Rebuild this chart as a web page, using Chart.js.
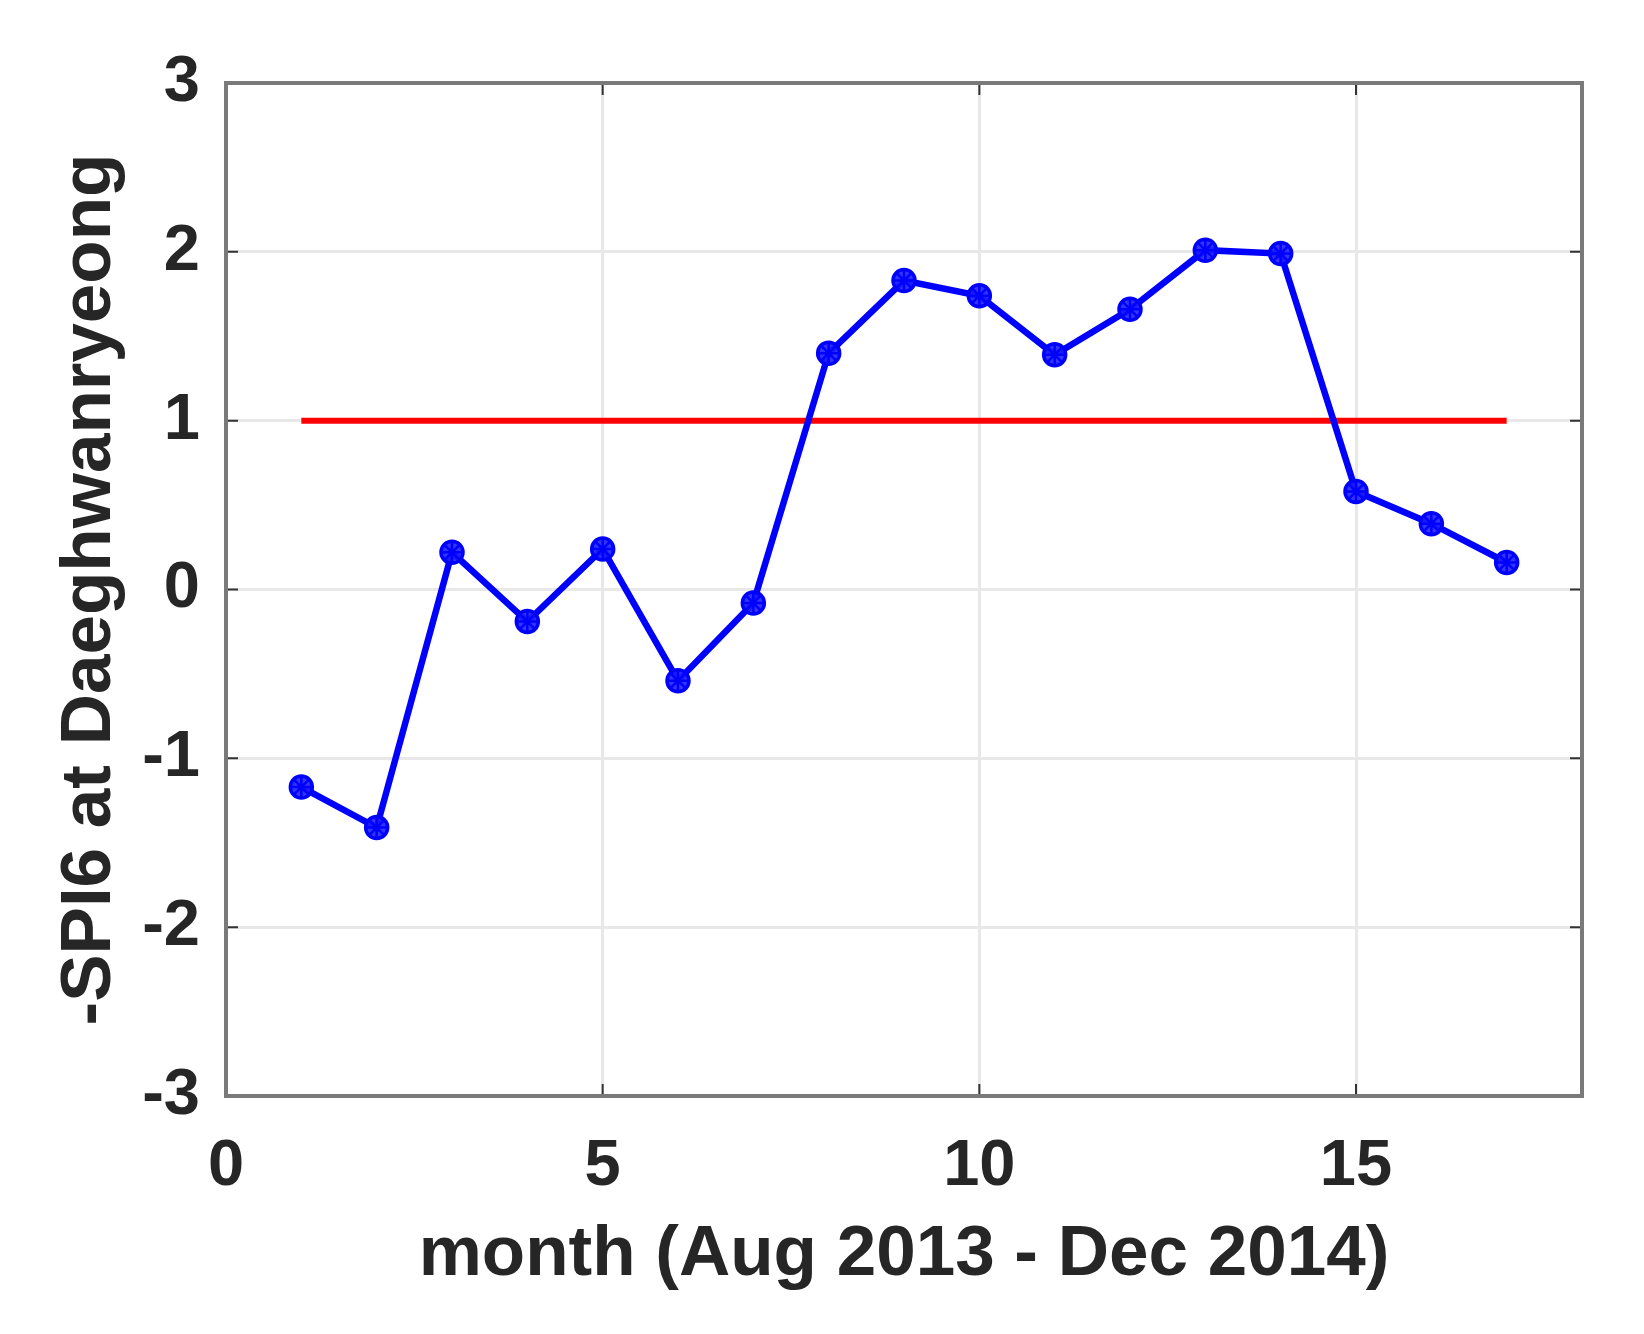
<!DOCTYPE html>
<html>
<head>
<meta charset="utf-8">
<script src="https://cdn.jsdelivr.net/npm/chart.js@4.4.0/dist/chart.umd.min.js"></script>
<style>
html,body{margin:0;padding:0;background:#fff;}
#wrap{width:1644px;height:1334px;position:relative;}
</style>
</head>
<body>
<div id="wrap"><canvas id="c" width="1644" height="1334"></canvas></div>
<script>
// Data
const months = [1,2,3,4,5,6,7,8,9,10,11,12,13,14,15,16,17];
const spi6 = [-1.17,-1.41,0.22,-0.19,0.24,-0.54,-0.08,1.40,1.83,1.74,1.39,1.66,2.01,1.99,0.58,0.39,0.16];
const thresholdX = [1,17];
const thresholdY = [1,1];
const xTicks = [0,5,10,15];
const yTicks = [-3,-2,-1,0,1,2,3];
const xTitle = 'month (Aug 2013 - Dec 2014)';
const yTitle = '-SPI6 at Daeghwanryeong';

const seriesPts = months.map((m,i)=>({x:m,y:spi6[i]}));
const threshPts = thresholdX.map((m,i)=>({x:m,y:thresholdY[i]}));

const textColor = '#262626';
const fontFam = '"Liberation Sans", Arial, Helvetica, sans-serif';

const boxPlugin = {
  id:'boxPlugin',
  afterDatasetsDraw(chart){
    const {ctx, chartArea:a, scales} = chart;
    ctx.save();
    // inward ticks
    ctx.strokeStyle = '#333333';
    ctx.lineWidth = 2;
    const tl = 12;
    xTicks.forEach(v=>{
      const px = scales.x.getPixelForValue(v);
      ctx.beginPath();
      ctx.moveTo(px,a.bottom); ctx.lineTo(px,a.bottom-tl);
      ctx.moveTo(px,a.top); ctx.lineTo(px,a.top+tl);
      ctx.stroke();
    });
    yTicks.forEach(v=>{
      const py = scales.y.getPixelForValue(v);
      ctx.beginPath();
      ctx.moveTo(a.left,py); ctx.lineTo(a.left+tl,py);
      ctx.moveTo(a.right,py); ctx.lineTo(a.right-tl,py);
      ctx.stroke();
    });
    ctx.strokeStyle = '#7a7a7a';
    ctx.lineWidth = 4;
    ctx.strokeRect(a.left, a.top, a.right-a.left, a.bottom-a.top);
    ctx.restore();
  }
};

new Chart(document.getElementById('c'), {
  type:'line',
  data:{
    datasets:[
      {
        data: threshPts,
        borderColor:'#ff0000',
        borderWidth:6,
        pointRadius:0,
        fill:false,
        order:2
      },
      {
        data: seriesPts,
        borderColor:'#0000ff',
        backgroundColor:'#0000ff',
        borderWidth:6.5,
        pointStyle:'circle',
        pointRadius:11,
        pointBorderWidth:3.5,
        pointBackgroundColor:'rgba(30,30,255,0.9)',
        pointBorderColor:'#0000ff',
        fill:false,
        order:1
      },
      {
        data: seriesPts,
        showLine:false,
        pointStyle:'star',
        pointRadius:11,
        pointBorderWidth:2.5,
        pointBorderColor:'#0000ff',
        pointBackgroundColor:'#0000ff',
        order:0
      }
    ]
  },
  options:{
    responsive:false,
    animation:false,
    events:[],
    layout:{padding:{left:0,top:83,right:62,bottom:0}},
    plugins:{legend:{display:false},tooltip:{enabled:false}},
    scales:{
      x:{
        type:'linear',
        min:0,max:18,
        afterBuildTicks(s){ s.ticks = xTicks.map(v=>({value:v})); },
        afterFit(s){ s.height = 238; },
        grid:{color:'#e8e8e8',lineWidth:3,drawTicks:false},
        border:{display:false},
        ticks:{color:textColor,padding:32,font:{family:fontFam,size:65,weight:'bold'},maxRotation:0},
        title:{display:true,text:xTitle,color:textColor,font:{family:fontFam,size:71,weight:'bold'},padding:{top:0,bottom:36}}
      },
      y:{
        type:'linear',
        min:-3,max:3,
        afterBuildTicks(s){ s.ticks = yTicks.map(v=>({value:v})); },
        afterFit(s){ s.width = 226; },
        grid:{color:'#e8e8e8',lineWidth:3,drawTicks:false},
        border:{display:false},
        ticks:{color:textColor,padding:26,font:{family:fontFam,size:65,weight:'bold'}},
        title:{display:true,text:yTitle,color:textColor,font:{family:fontFam,size:71,weight:'bold'},padding:{top:48,bottom:0}}
      }
    }
  },
  plugins:[boxPlugin]
});
</script>
</body>
</html>
